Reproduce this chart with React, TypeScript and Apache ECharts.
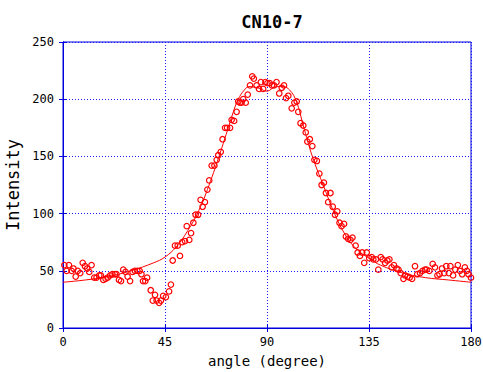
import React, { useEffect, useRef } from "react";
import * as echarts from "echarts";

const xTicks = [0, 45, 90, 135, 180];
const yTicks = [0, 50, 100, 150, 200, 250];

const measuredAngle = [
  0.6, 1.6, 2.6, 3.8, 4.6, 5.6, 6.5, 7.6, 8.7, 9.7, 10.7, 11.6, 12.6, 13.8, 14.8, 16, 16.7, 17.8, 18.8, 19.7,
  20.8, 21.8, 22.9, 23.6, 24.7, 25.6, 26.6, 27.6, 28.5, 29.6, 30.7, 31.7, 32.8, 33.8, 34.6, 35.3, 36.3, 37.1,
  38.7, 39.6, 40.6, 41.3, 42.4, 43.2, 44.2, 45.4, 46.8, 47.6, 48.4, 49.4, 50.6, 51.6, 52.6, 53.8,
  54.6, 55.7, 56.5, 57.5, 58.5, 59.6, 60.7, 61.6, 62.6, 63.7, 64.5, 65.6, 66.8, 67.8, 68.5, 69.6, 70.4, 71.5,
  72.4, 73.7, 74.4, 75.5, 76.6, 77.3, 78, 78.8, 79.5, 80.6, 81.5, 82.5, 83.5, 84.2, 85.4, 86.5, 87.3, 88.3,
  89.3, 90.2, 91.2, 92.2, 93.1, 94.2, 95.4, 96.5, 97.5, 98.4, 99.4, 100.9, 102.1, 103.1, 103.8, 104.8, 106,
  107.1, 107.8, 108.9, 110, 110.9, 112, 113.1, 114.1, 115.1, 116, 117, 118, 119, 120, 121, 122,
  122.9, 124, 124.8, 125.8, 126.8, 127.7, 129.1, 130, 131, 132, 132.9, 134, 135.1, 136.2, 136.9, 138.1,
  139.1, 140.2, 141, 142.1, 143.1, 144, 145, 146, 147.2, 148, 149, 150.2, 150.9, 152, 152.9, 154, 155.3,
  156.3, 157.5, 158.6, 159.7, 160.4, 161.6, 163.1, 164.1, 165.2, 166.1, 167.2, 168.2, 169.1, 170.2, 170.9,
  172.1, 173.1, 174.2, 175.1, 176.1, 177.3, 178.2, 178.9, 180,
];
const measuredIntensity = [
  55, 50, 55, 50, 52, 45, 50, 48, 57, 54, 52, 49, 55, 44, 44, 46, 46, 42, 43, 44,
  46, 47, 47, 47, 42, 41, 51, 49, 45, 41, 49, 50, 50, 50, 47, 41, 41, 44,
  33, 24, 29, 24, 22, 24, 28, 27, 32, 38, 59, 72, 72, 63, 75, 76,
  89, 77, 83, 92, 99, 99, 112, 106, 110, 121, 129, 142, 142, 147, 151, 154, 165, 175,
  175, 175, 182, 181, 189, 198, 197, 197, 200, 197, 204, 212, 220, 218, 212, 209, 215, 209,
  215, 214, 214, 212, 212, 215, 205, 210, 212, 201, 203, 192, 197, 198, 189, 179, 177,
  171, 163, 165, 159, 147, 146, 135, 125, 127, 118, 110, 118, 106, 99, 102, 92,
  89, 91, 80, 78, 77, 79, 72, 66, 63, 66, 57, 66, 61, 62, 60, 60,
  51, 62, 60, 57, 59, 60, 53, 55, 52, 51, 48, 43, 46, 45, 44, 43, 54,
  47, 48, 50, 51, 51, 50, 56, 53, 46, 47, 52, 48, 54, 48, 54,
  46, 51, 55, 50, 47, 53, 50, 47, 44,
];

const fitAngle = [
  0, 10, 20, 30, 40, 45, 50, 55, 60, 65, 70, 75, 77.3, 80, 82, 86, 90, 94, 97, 100, 103, 106, 110, 115,
  120, 125, 130, 135, 140, 150, 160, 170, 180,
];
const fitIntensity = [
  40, 42, 45, 50, 57, 62, 71, 85, 103, 128, 157, 188, 200, 208, 211, 210, 207, 211, 211, 208, 198, 177, 150, 124,
  99, 80, 68, 61, 55, 48, 44, 42, 40,
];

const BLUE = "#0000dd";
const GRIDBLUE = "#1a1aff";
const MONO = "'DejaVu Sans Mono', monospace";

export default function App() {
  const ref = useRef<HTMLDivElement>(null);
  useEffect(() => {
    if (!ref.current) return;
    const chart = echarts.init(ref.current, null, { renderer: "svg" });
    const scatterData = measuredAngle.map((a, i) => [a, measuredIntensity[i]]);
    const fitData = fitAngle.map((a, i) => [a, fitIntensity[i]]);
    const tickOnly = {
      axisLine: { show: true, lineStyle: { color: BLUE, width: 1 } },
      axisTick: { show: true, inside: true, length: 4, lineStyle: { color: BLUE } },
      axisLabel: { show: false },
      splitLine: { show: false },
    };
    chart.setOption({
      animation: false,
      backgroundColor: "#ffffff",
      title: {
        text: "CN10-7",
        left: 267,
        textAlign: "center",
        top: 8,
        textStyle: { fontFamily: MONO, fontSize: 17, fontWeight: "bold", color: "#000" },
      },
      grid: {
        left: 63,
        right: 12,
        top: 42,
        bottom: 44,
        containLabel: false,
        outerBoundsMode: "none",
        show: true,
        borderColor: BLUE,
        borderWidth: 1,
        backgroundColor: "transparent",
      },
      xAxis: [
        {
          type: "value",
          min: xTicks[0],
          max: xTicks[xTicks.length - 1],
          interval: 45,
          name: "angle (degree)",
          nameLocation: "middle",
          nameGap: 26,
          nameTextStyle: { fontFamily: MONO, fontSize: 14, color: "#000" },
          axisLine: { show: true, lineStyle: { color: BLUE, width: 1 } },
          axisTick: { show: true, inside: true, length: 4, lineStyle: { color: BLUE } },
          axisLabel: { fontFamily: MONO, fontSize: 12, color: "#000", margin: 8 },
          splitLine: { show: true, lineStyle: { color: GRIDBLUE, type: [1, 2], width: 1 } },
        },
        {
          type: "value",
          position: "top",
          min: xTicks[0],
          max: xTicks[xTicks.length - 1],
          interval: 45,
          ...tickOnly,
        },
      ],
      yAxis: [
        {
          type: "value",
          min: yTicks[0],
          max: yTicks[yTicks.length - 1],
          interval: 50,
          name: "Intensity",
          nameLocation: "middle",
          nameGap: 38,
          nameTextStyle: { fontFamily: MONO, fontSize: 17, color: "#000" },
          axisLine: { show: true, lineStyle: { color: BLUE, width: 1 } },
          axisTick: { show: true, inside: true, length: 4, lineStyle: { color: BLUE } },
          axisLabel: { fontFamily: MONO, fontSize: 12, color: "#000", margin: 9 },
          splitLine: { show: true, lineStyle: { color: GRIDBLUE, type: [1, 2], width: 1 } },
        },
        {
          type: "value",
          position: "right",
          min: yTicks[0],
          max: yTicks[yTicks.length - 1],
          interval: 50,
          ...tickOnly,
        },
      ],
      series: [
        {
          type: "line",
          data: fitData,
          smooth: 0.4,
          showSymbol: false,
          symbol: "none",
          lineStyle: { color: "#ff0000", width: 1 },
          z: 2,
        },
        {
          type: "scatter",
          data: scatterData,
          symbol: "circle",
          symbolSize: 5.5,
          itemStyle: { color: "rgba(255,255,255,0)", borderColor: "#ff0000", borderWidth: 1.2, opacity: 1 },
          z: 3,
        },
      ],
    });
    return () => chart.dispose();
  }, []);
  return <div ref={ref} style={{ width: 483, height: 372, position: "absolute", left: 0, top: 0 }} />;
}
